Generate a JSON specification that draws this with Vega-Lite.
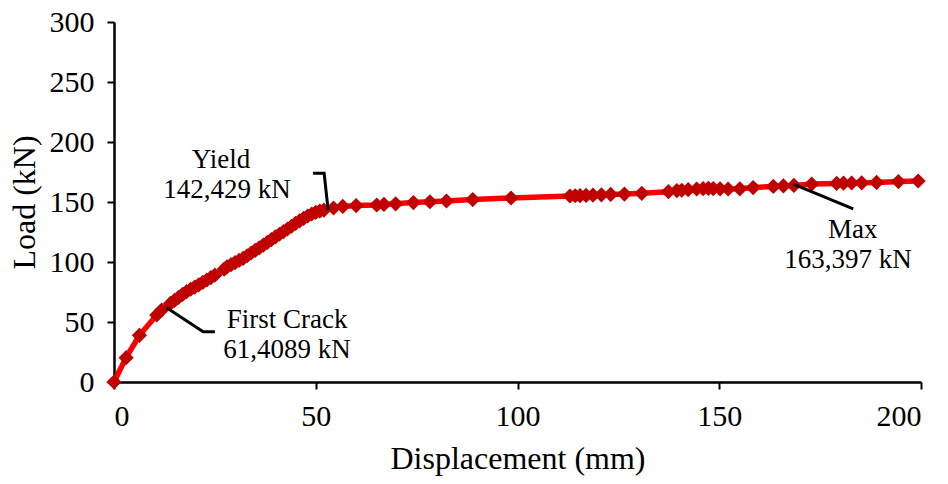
{
  "$schema": "https://vega.github.io/schema/vega-lite/v6.json",
  "width": 807,
  "height": 360,
  "autosize": "none",
  "padding": {"left": 114, "top": 22, "right": 27, "bottom": 102},
  "background": "white",
  "config": {
    "view": {"stroke": null},
    "font": "Liberation Serif",
    "axis": {
      "grid": false,
      "domainColor": "black",
      "domainWidth": 2.5,
      "tickColor": "black",
      "tickWidth": 2,
      "tickSize": 7,
      "labelFont": "Liberation Serif",
      "labelFontSize": 30,
      "labelColor": "black",
      "titleFont": "Liberation Serif",
      "titleFontSize": 32,
      "titleFontWeight": "normal",
      "titleColor": "black"
    }
  },
  "datasets": {
    "curve": [
      {"d": 0, "load": 0},
      {"d": 3.0, "load": 20.3},
      {"d": 6.3, "load": 38.9},
      {"d": 10.6, "load": 55.8},
      {"d": 11.8, "load": 60},
      {"d": 14, "load": 65.5},
      {"d": 15, "load": 68},
      {"d": 16, "load": 70.5},
      {"d": 17, "load": 73},
      {"d": 18, "load": 75.3},
      {"d": 19, "load": 77.3},
      {"d": 20, "load": 79},
      {"d": 21, "load": 81},
      {"d": 22, "load": 83},
      {"d": 23, "load": 85},
      {"d": 24, "load": 87},
      {"d": 25, "load": 89},
      {"d": 27.3, "load": 94},
      {"d": 28, "load": 96},
      {"d": 29, "load": 97.8},
      {"d": 30, "load": 99.5},
      {"d": 31, "load": 101.3},
      {"d": 32, "load": 103},
      {"d": 33, "load": 105.2},
      {"d": 34, "load": 107.5},
      {"d": 35, "load": 109.7},
      {"d": 36, "load": 111.8},
      {"d": 37, "load": 114},
      {"d": 38, "load": 116.3},
      {"d": 39, "load": 118.6},
      {"d": 40, "load": 120.9},
      {"d": 41, "load": 123.1},
      {"d": 42, "load": 125.3},
      {"d": 43, "load": 127.5},
      {"d": 44, "load": 129.8},
      {"d": 45, "load": 132.2},
      {"d": 46, "load": 134.3},
      {"d": 47, "load": 136.4},
      {"d": 48, "load": 138.3},
      {"d": 49, "load": 140},
      {"d": 50, "load": 141.3},
      {"d": 51, "load": 142.4},
      {"d": 52, "load": 143.2},
      {"d": 54.4, "load": 145},
      {"d": 56.7, "load": 146.3},
      {"d": 60, "load": 147},
      {"d": 65.1, "load": 147.5},
      {"d": 66.9, "load": 148},
      {"d": 69.8, "load": 148.5},
      {"d": 74.2, "load": 149.5},
      {"d": 78.3, "load": 150.2},
      {"d": 82.4, "load": 150.8},
      {"d": 88.9, "load": 152},
      {"d": 98.4, "load": 153.3},
      {"d": 113, "load": 155},
      {"d": 114.3, "load": 155.2},
      {"d": 115.5, "load": 155.3},
      {"d": 117, "load": 155.5},
      {"d": 118.7, "load": 155.7},
      {"d": 120.8, "load": 156},
      {"d": 123.1, "load": 156.3},
      {"d": 126.5, "load": 156.6},
      {"d": 130.8, "load": 157.2},
      {"d": 137.4, "load": 158.6},
      {"d": 139.5, "load": 159.5},
      {"d": 140.7, "load": 159.8},
      {"d": 142.3, "load": 160.3},
      {"d": 144.4, "load": 160.8},
      {"d": 146, "load": 161.1},
      {"d": 147.3, "load": 161.3},
      {"d": 148.5, "load": 161.2},
      {"d": 150.2, "load": 161},
      {"d": 152.2, "load": 160.8},
      {"d": 155.1, "load": 161},
      {"d": 158.4, "load": 162},
      {"d": 163.4, "load": 163},
      {"d": 165.9, "load": 163.4},
      {"d": 168.5, "load": 163.8},
      {"d": 172.9, "load": 165},
      {"d": 179.1, "load": 165.5},
      {"d": 180.8, "load": 165.7},
      {"d": 182.8, "load": 165.8},
      {"d": 185.3, "load": 166},
      {"d": 189, "load": 166.3},
      {"d": 194.4, "load": 167},
      {"d": 199.3, "load": 167.5}
    ],
    "leaders": [
      {"id": "yield", "k": 1, "d": 49.35, "load": 173.9},
      {"id": "yield", "k": 2, "d": 52.08, "load": 173.9},
      {"id": "yield", "k": 3, "d": 53.07, "load": 143.3},
      {"id": "crack", "k": 1, "d": 13.05, "load": 61.9},
      {"id": "crack", "k": 2, "d": 22.1, "load": 41.9},
      {"id": "crack", "k": 3, "d": 25.0, "load": 41.9},
      {"id": "max", "k": 1, "d": 168.5, "load": 164.7},
      {"id": "max", "k": 2, "d": 183.2, "load": 144.2}
    ],
    "labels": [
      {"text": "Yield", "d": 26.5, "load": 185},
      {"text": "142,429 kN", "d": 28, "load": 160},
      {"text": "First Crack", "d": 42.9, "load": 51.7},
      {"text": "61,4089 kN", "d": 42.9, "load": 26.7},
      {"text": "Max", "d": 183.1, "load": 126.7},
      {"text": "163,397 kN", "d": 181.9, "load": 101.7}
    ]
  },
  "encoding": {
    "x": {
      "field": "d",
      "type": "quantitative",
      "scale": {"domain": [0, 200], "nice": false, "zero": true},
      "axis": {"title": "Displacement (mm)", "values": [0, 50, 100, 150, 200], "labelPadding": 12, "titlePadding": 12}
    },
    "y": {
      "field": "load",
      "type": "quantitative",
      "scale": {"domain": [0, 300], "nice": false},
      "axis": {"title": "Load (kN)", "values": [0, 50, 100, 150, 200, 250, 300], "labelPadding": 13, "titlePadding": 8}
    }
  },
  "layer": [
    {
      "data": {"name": "curve"},
      "mark": {"type": "line", "color": "#FF0000", "strokeWidth": 5.5, "interpolate": "linear"}
    },
    {
      "data": {"name": "curve"},
      "mark": {"type": "point", "shape": "diamond", "filled": true, "color": "#C00000", "opacity": 1, "size": 230}
    },
    {
      "data": {"name": "leaders"},
      "mark": {"type": "line", "color": "black", "strokeWidth": 3},
      "encoding": {"detail": {"field": "id"}, "order": {"field": "k"}}
    },
    {
      "data": {"name": "labels"},
      "mark": {"type": "text", "font": "Liberation Serif", "fontSize": 27, "color": "black", "align": "center", "baseline": "middle"},
      "encoding": {"text": {"field": "text"}}
    }
  ]
}
